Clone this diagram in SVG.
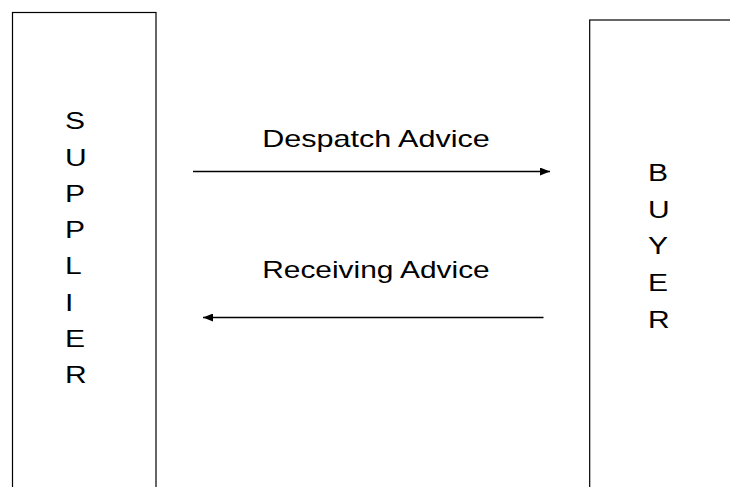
<svg xmlns="http://www.w3.org/2000/svg" width="730" height="487" viewBox="0 0 730 487">
<style>
.box{fill:#ffffff;stroke:#000000;stroke-width:1.2}
.lbl{font-family:"Liberation Sans",Arial,sans-serif;font-size:24px;fill:#000000}
.mid{text-anchor:middle}
.conn{stroke:#000000;stroke-width:1.3;fill:none}
</style>
<defs>
<marker id="ah" viewBox="0 0 10 8" refX="10" refY="4" markerWidth="10" markerHeight="8" markerUnits="userSpaceOnUse" orient="auto">
<path d="M0,0 L10,4 L0,8 Z" fill="#000000"/>
</marker>
</defs>
<rect width="730" height="487" fill="#ffffff"/>
<g id="supplier">
<rect class="box" x="12.5" y="12.5" width="143.5" height="490"/>
<text class="lbl" transform="scale(1.25,1)">
<tspan x="52" y="129">S</tspan>
<tspan x="52" y="166">U</tspan>
<tspan x="52" y="202">P</tspan>
<tspan x="52" y="238">P</tspan>
<tspan x="52" y="274">L</tspan>
<tspan x="52" y="311">I</tspan>
<tspan x="52" y="347">E</tspan>
<tspan x="52" y="383">R</tspan>
</text>
</g>
<g id="buyer">
<rect class="box" x="589.7" y="20" width="160" height="490"/>
<text class="lbl" transform="scale(1.25,1)">
<tspan x="518.4" y="181.5">B</tspan>
<tspan x="518.4" y="218">U</tspan>
<tspan x="518.4" y="254.5">Y</tspan>
<tspan x="518.4" y="291">E</tspan>
<tspan x="518.4" y="328">R</tspan>
</text>
</g>
<g id="connectors">
<line class="conn" x1="193" y1="171.5" x2="550" y2="171.5" marker-end="url(#ah)"/>
<line class="conn" x1="543.5" y1="317.5" x2="203" y2="317.5" marker-end="url(#ah)"/>
</g>
<g id="labels">
<text class="lbl mid" transform="scale(1.25,1)" x="300.8" y="147" textLength="182" lengthAdjust="spacingAndGlyphs">Despatch Advice</text>
<text class="lbl mid" transform="scale(1.25,1)" x="300.8" y="278" textLength="182" lengthAdjust="spacingAndGlyphs">Receiving Advice</text>
</g>
</svg>
